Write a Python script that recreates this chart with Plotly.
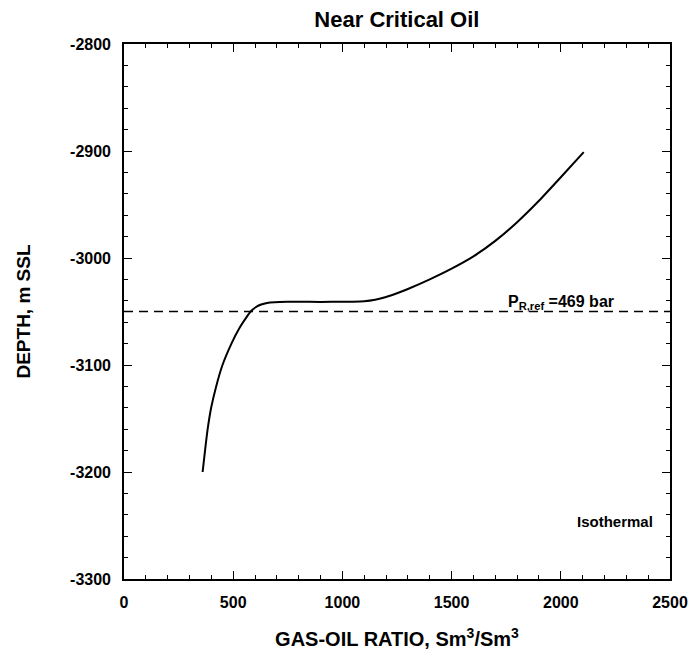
import plotly.graph_objects as go

# Gas-oil ratio (Sm3/Sm3) versus depth (m SSL) for the near-critical oil column
gor = [360, 371, 383, 399, 422, 451, 492, 530, 562, 580, 603, 628, 655, 690, 750,
       850, 950, 1050, 1100, 1150, 1200, 1250, 1300, 1400, 1500, 1600, 1700, 1800,
       1900, 2000, 2105]
depth = [-3200, -3180, -3160, -3140, -3120, -3100, -3080, -3065, -3055, -3050, -3046,
         -3043.5, -3042, -3041.3, -3041, -3041, -3041, -3040.8, -3040.4, -3039,
         -3036.5, -3033, -3029, -3020, -3010, -2998.5, -2984, -2966.5, -2946.5, -2924.5,
         -2901]

# Reference pressure level
ref_depth = -3050
ref_label = "P<sub>R,ref</sub> =469 bar"
x_range = [0, 2500]
y_range = [-3300, -2800]
x_ticks = [0, 500, 1000, 1500, 2000, 2500]
y_ticks = [-3300, -3200, -3100, -3000, -2900, -2800]

FONT = "Liberation Sans, Arial, Helvetica, sans-serif"

fig = go.Figure()

fig.add_trace(go.Scatter(
    x=x_range, y=[ref_depth, ref_depth], mode="lines",
    line=dict(color="black", width=1.4, dash="9px,6px"),
    hoverinfo="skip", showlegend=False,
))

fig.add_trace(go.Scatter(
    x=gor, y=depth, mode="lines",
    line=dict(color="black", width=2, shape="spline", smoothing=0.5),
    showlegend=False,
))

axis_common = dict(
    showgrid=False, zeroline=False, showline=True, linecolor="black", linewidth=1.6,
    mirror="allticks", ticks="inside", ticklen=8, tickwidth=1.4, tickcolor="black",
    tickfont=dict(family=FONT, size=16, color="black", weight="bold"),
    automargin=False,
)

fig.update_xaxes(
    range=x_range, tickvals=x_ticks, ticktext=[str(v) for v in x_ticks],
    minor=dict(dtick=100, ticks="inside", ticklen=4, tickwidth=1.2, tickcolor="black"),
    ticklabelstandoff=8,
    title=dict(text="GAS-OIL RATIO, Sm<sup>3</sup>/Sm<sup>3</sup>",
               font=dict(family=FONT, size=20, color="black", weight="bold"), standoff=22),
    **axis_common,
)
fig.update_yaxes(
    range=y_range, tickvals=y_ticks, ticktext=[str(v) for v in y_ticks],
    minor=dict(dtick=20, ticks="inside", ticklen=4, tickwidth=1.2, tickcolor="black"),
    ticklabelstandoff=8,
    title=dict(text="DEPTH, m SSL",
               font=dict(family=FONT, size=19, color="black", weight="bold"), standoff=34),
    **axis_common,
)

fig.add_annotation(
    x=1750, y=-3042, text=ref_label, showarrow=False, xanchor="left", yanchor="middle",
    font=dict(family=FONT, size=16, color="black", weight="bold"),
)
fig.add_annotation(
    x=2430, y=-3246, text="Isothermal", showarrow=False, xanchor="right", yanchor="middle",
    font=dict(family=FONT, size=15, color="black", weight="bold"),
)

fig.update_layout(
    width=700, height=653,
    margin=dict(l=124, r=30, t=44, b=74),
    paper_bgcolor="white", plot_bgcolor="white",
    title=dict(text="Near Critical Oil", x=0.567, xanchor="center", y=0.971, yanchor="middle",
               font=dict(family=FONT, size=22, color="black", weight="bold")),
)

fig.write_html("out.html")
